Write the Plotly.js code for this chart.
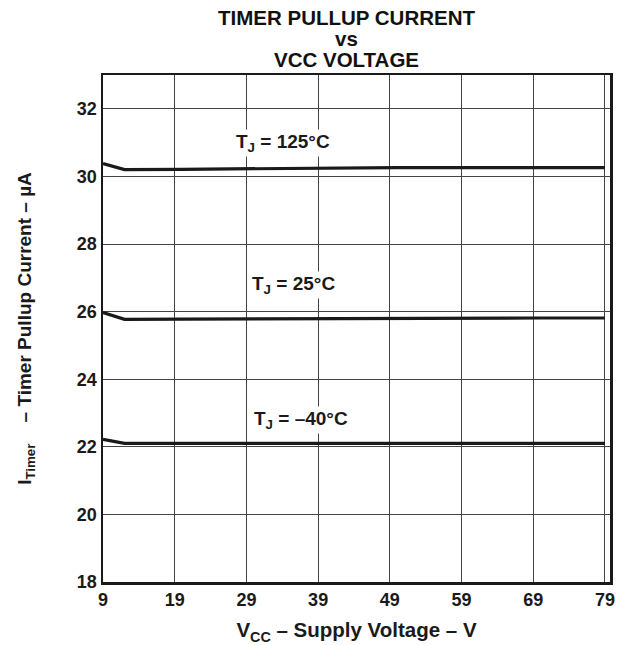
<!DOCTYPE html>
<html>
<head>
<meta charset="utf-8">
<script src="https://cdn.plot.ly/plotly-3.0.1.min.js"></script>
<style>html,body{margin:0;padding:0;background:#fff;}#chart{width:619px;height:645px;}</style>
</head>
<body>
<div id="chart"></div>
<script>
// Data
const vcc = [9, 12, 20, 30, 40, 50, 60, 70, 79];
const i125 = [30.38, 30.2, 30.21, 30.23, 30.25, 30.26, 30.26, 30.26, 30.26];
const i25 = [25.97, 25.77, 25.78, 25.79, 25.8, 25.81, 25.81, 25.81, 25.81];
const iM40 = [22.22, 22.1, 22.1, 22.1, 22.1, 22.1, 22.1, 22.1, 22.1];

const xTicks = [9, 19, 29, 39, 49, 59, 69, 79];
const yTicks = [18, 20, 22, 24, 26, 28, 30, 32];

const titleLines = ['TIMER PULLUP CURRENT', 'vs', 'VCC VOLTAGE'];

const labels = [
  {text: 'T<sub>J</sub> = 125°C', x: 34.1, y: 31.0},
  {text: 'T<sub>J</sub> = 25°C', x: 35.5, y: 26.8},
  {text: 'T<sub>J</sub> = –40°C', x: 36.6, y: 22.8}
];

const FONT = 'Arial, "Liberation Sans", sans-serif';
const lineStyle = {color: '#1a1a1a', width: 3.2};

const traces = [
  {x: vcc, y: i125, mode: 'lines', line: lineStyle, hoverinfo: 'skip'},
  {x: vcc, y: i25, mode: 'lines', line: lineStyle, hoverinfo: 'skip'},
  {x: vcc, y: iM40, mode: 'lines', line: lineStyle, hoverinfo: 'skip'}
];

// plot area in pixels: top 75, bottom 582 -> paper y mapping
const plotTop = 75, plotBot = 582;
const py = p => (plotBot - p) / (plotBot - plotTop);
const titleY = [17, 38, 59];

const annotations = labels.map(l => ({
  text: '<b>' + l.text + '</b>', x: l.x, y: l.y, xref: 'x', yref: 'y',
  showarrow: false, font: {size: 19, family: FONT, color: '#1a1a1a'}, bgcolor: '#fff'
})).concat(titleLines.map((t, i) => ({
  text: '<b>' + t + '</b>', xref: 'paper', yref: 'paper', x: 0.481, y: py(titleY[i]),
  xanchor: 'center', yanchor: 'middle', showarrow: false,
  font: {size: 20.5, family: FONT, color: '#111'}
})));

const layout = {
  width: 619, height: 645,
  margin: {l: 103, r: 9, t: 75, b: 63},
  paper_bgcolor: '#fff', plot_bgcolor: '#fff',
  showlegend: false,
  font: {family: FONT, color: '#1a1a1a', size: 18},
  xaxis: {
    range: [9, 79.7], tickvals: xTicks, ticktext: xTicks.map(v => '<b>' + v + '</b>'),
    showgrid: true, gridcolor: '#444', gridwidth: 1, zeroline: false,
    showline: true, linecolor: '#1a1a1a', linewidth: 2.5, mirror: true,
    ticks: '', tickfont: {size: 18, family: FONT},
    title: {text: '<b>V<sub>CC</sub> – Supply Voltage – V</b>', font: {size: 20.5, family: FONT}, standoff: 14}
  },
  yaxis: {
    range: [18, 33], tickvals: yTicks, ticktext: yTicks.map(v => '<b>' + v + '</b>'),
    showgrid: true, gridcolor: '#444', gridwidth: 1, zeroline: false,
    showline: true, linecolor: '#1a1a1a', linewidth: 2.5, mirror: true,
    ticks: '', tickfont: {size: 18, family: FONT},
    title: {text: '<b>I<sub>Timer</sub>\u00a0\u00a0\u00a0\u00a0– Timer Pullup Current – \u00b5A</b>', font: {size: 19, family: FONT}, standoff: 40}
  },
  annotations: annotations
};

Plotly.newPlot('chart', traces, layout, {staticPlot: true, displayModeBar: false});
</script>
</body>
</html>
